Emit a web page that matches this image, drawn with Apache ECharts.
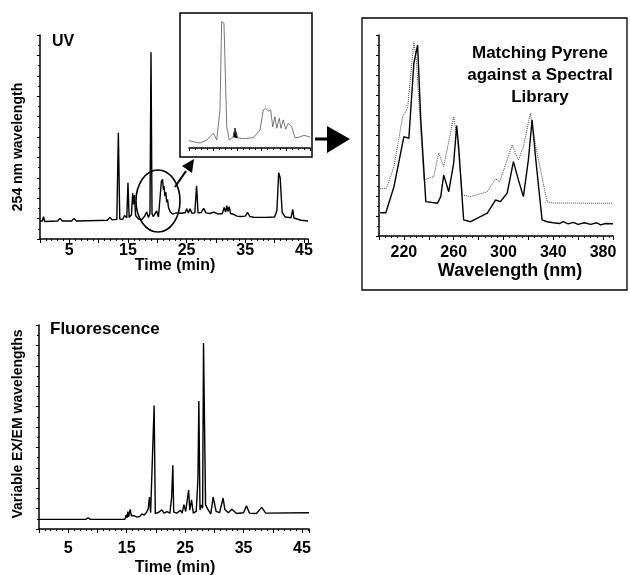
<!DOCTYPE html>
<html>
<head>
<meta charset="utf-8">
<script src="https://cdn.jsdelivr.net/npm/echarts@6/dist/echarts.min.js"></script>
<style>
  html, body { margin: 0; padding: 0; background: #fff; }
  #chart { width: 630px; height: 575px; }
</style>
</head>
<body>
<div id="chart"></div>
<script>
// ================= data =================
// UV trace at 254 nm (time in min, relative signal)
const uvTime = [0, 0.4, 0.6, 0.8, 3.0, 3.4, 3.8, 5.4, 5.8, 6.2, 11.5, 11.9, 12.3, 13.1, 13.36, 13.6, 14.1, 14.4, 14.8, 15.0,
  15.2, 15.6, 15.8, 15.95, 16.1, 16.3, 16.5, 16.8, 17.4, 17.8, 18.2, 18.5, 18.75, 18.93, 19.1, 19.3, 19.6, 19.9, 20.2, 20.5,
  20.7, 20.9, 21.05, 21.15, 21.3, 21.45, 21.6, 21.75, 21.9, 22.2, 22.6, 23.2, 24.2, 24.8, 25.0, 25.3, 25.6, 25.9, 26.4, 26.7,
  26.95, 27.5, 27.9, 28.3, 29.0, 29.6, 30.4, 31.1, 31.4, 31.65, 31.85, 32.05, 32.25, 32.5, 33.1, 33.6, 34.2, 35.0, 35.4, 35.8,
  36.5, 38.5, 40.0, 40.4, 40.7, 40.95, 41.3, 41.8, 42.8, 43.1, 43.3, 44.5, 45.7]
const uvSignal = [8.8, 8.8, 10.9, 8.6, 8.8, 10.1, 8.8, 8.8, 10.1, 8.8, 9.2, 10.6, 9.4, 9.6, 52.1, 9.8, 9.6, 11.5, 10.4, 27.6,
  10.5, 12, 22.4, 17, 21.5, 11.5, 12.3, 9.8, 9.6, 11, 13.2, 10.5, 12.5, 91.5, 12.5, 11, 11.5, 13.8, 10.8, 11.5,
  28.3, 29.3, 24, 26, 21, 23, 18, 19.5, 15.5, 13.4, 12.2, 12.8, 12.6, 13, 14.9, 12.8, 14.8, 12.6, 12.8, 26.1,
  12.8, 13, 15, 12.8, 12.5, 13.2, 12.2, 12.5, 15.5, 13.2, 16.3, 13.5, 15.8, 12.5, 12, 11.2, 11, 11.2, 13, 11,
  10.6, 10.6, 10.8, 14, 32.5, 30, 13, 10.8, 10.4, 14.5, 10.3, 9.2, 8.8]

// zoomed inset of the circled region (relative units)
const insetX = [0, 3.6, 9.1, 14.6, 20.1, 22.9, 25.6, 27, 28.9, 31.2, 33.3, 36.6, 38, 40, 45, 53, 58.7, 61.4, 63.4, 65.6,
  67.5, 69.2, 71, 72.5, 74.6, 76, 77.9, 79.9, 82, 84.9, 87.6, 91.7, 95, 100]
const insetY = [5.7, 4.9, 3.9, 6.2, 11.5, 6.2, 29.7, 98.7, 97.4, 16.6, 6.2, 8.8, 15.4, 8, 7.3, 8, 14, 29.7, 31, 28.9,
  29.7, 16.6, 24.5, 15.4, 23.2, 15.4, 22, 14.8, 19.3, 16.6, 8, 8.6, 9.9, 8.6]
// filled pyrene peak in the inset
const pyreneX = [36.6, 38, 40]
const pyreneY = [8.8, 15.4, 8]

// UV spectra: sample (solid) and library (dotted)
const sampleWl = [201, 205.5, 212, 220, 224, 228, 231, 233.6, 237.6, 247, 249.6, 252, 256, 260, 262.4, 264, 268, 273.6, 287, 293.6,
  297.6, 303, 308, 312, 316, 320, 323, 326, 331, 335, 340, 345, 348, 352, 356, 360, 365, 370, 375, 378, 382, 388]
const sampleAbs = [11.6, 11.6, 24.5, 49.4, 48.6, 85.9, 95, 57.7, 17.1, 16.3, 19.6, 30.3, 22, 36.3, 55, 44.4, 8, 7.1, 11.4, 17.9,
  17.1, 21.4, 37, 27.9, 19.6, 37.8, 57.7, 37.8, 8, 7.1, 6.6, 6.2, 7.2, 6, 6.8, 5.8, 6.6, 5.8, 6.6, 5.5, 6.2, 6.1]
const libraryWl = [201, 206, 212, 219, 223, 228, 230, 232, 236, 244, 248, 252, 260, 263, 267, 273.6, 287, 293.6, 297, 307,
  312, 316, 321.6, 326, 335, 340, 388]
const libraryAbs = [23.7, 23.7, 34.5, 59.4, 63.7, 96.7, 87.6, 67.7, 27.9, 29.5, 41.3, 34.5, 59.4, 47.8, 20.4, 19.6, 22, 28.4, 27, 45.3,
  37.8, 44.4, 61, 44.4, 17.1, 16.4, 16.3]

// fluorescence trace
const flTime = [0, 8.0, 8.4, 8.8, 14.7, 14.9, 15.05, 15.2, 15.35, 15.6, 15.8, 16.2, 16.5, 16.8, 17.3, 17.6, 18.0, 18.4, 18.7, 18.9,
  19.1, 19.4, 19.7, 19.9, 20.5, 21.0, 21.4, 21.9, 22.4, 22.7, 22.9, 23.05, 23.6, 24.2, 24.5, 24.8, 25.1, 25.6, 25.8, 26.1,
  26.4, 26.9, 27.2, 27.35, 27.55, 27.8, 28.0, 28.15, 28.3, 28.5, 28.9, 29.4, 29.8, 30.05, 30.3, 30.9, 31.5, 31.8, 32.4, 33.0,
  33.8, 35.0, 35.5, 36.0, 37.2, 38.1, 38.8, 39.0, 46.2]
const flSignal = [4.7, 4.7, 5.5, 4.7, 4.7, 6.9, 5.5, 8.5, 6, 9.6, 6.5, 6.6, 7.2, 5.8, 6.2, 7.4, 6.8, 8.2, 10, 15.7,
  8, 7.6, 60.5, 7.5, 8.2, 9.4, 7.8, 8.5, 7.8, 15.7, 31.2, 8.3, 7.8, 9.2, 7.8, 11.9, 8.6, 19.1, 9.3, 14.3,
  7.8, 8.6, 25, 62.7, 9.3, 11.8, 10.2, 91.2, 91.2, 11.8, 9.6, 7.4, 15.7, 16.2, 8.6, 8, 15.2, 9.6, 8, 9.7,
  7.6, 8, 11.4, 7.8, 7.6, 10.6, 7.8, 8, 8]

const zip = (a, b) => a.map((v, i) => [v, b[i]])

// ================= style helpers =================
const FONT = '"Liberation Sans", Arial, sans-serif'

const timeAxis = (gridIndex, max, margin) => ({
  type: 'value', gridIndex, min: 0, max, interval: 5,
  axisLine: { lineStyle: { color: '#000', width: 1.5 } },
  axisTick: { length: 4, lineStyle: { color: '#000', width: 1 } },
  minorTick: { show: true, splitNumber: 5, length: 2, lineStyle: { color: '#000', width: 1 } },
  splitLine: { show: false },
  axisLabel: {
    margin, color: '#000', fontFamily: FONT, fontWeight: 'bold', fontSize: 16,
    showMaxLabel: false,
    formatter: (v) => (v % 10 === 5 ? String(v) : '')
  }
})

const signalAxis = (gridIndex) => ({
  type: 'value', gridIndex, min: 0, max: 100, interval: 10,
  axisLine: { show: true, lineStyle: { color: '#000', width: 1.5 } },
  axisTick: { show: true, length: 3, lineStyle: { color: '#000', width: 1 } },
  minorTick: { show: true, splitNumber: 2, length: 2, lineStyle: { color: '#000', width: 1 } },
  splitLine: { show: false },
  axisLabel: { show: false }
})

const trace = (xAxisIndex, data, color, width, type) => ({
  type: 'line', xAxisIndex, yAxisIndex: xAxisIndex, data,
  symbol: 'none', smooth: false, silent: true,
  lineStyle: { color, width, type: type || 'solid' }
})

const label = (text, x, y, size, extra) => Object.assign({
  type: 'text', x, y,
  style: { text, fill: '#000', font: 'bold ' + size + 'px ' + FONT, align: 'center', verticalAlign: 'middle' }
}, extra || {})

// ================= chart =================
const chart = echarts.init(document.getElementById('chart'), null, { renderer: 'canvas' })

const option = {
  animation: false,
  backgroundColor: '#fff',
  grid: [
    { left: 40, top: 35, width: 268, height: 204 },   // UV
    { left: 189, top: 20, width: 121, height: 128 },  // inset
    { left: 379, top: 35, width: 234, height: 201 },  // spectra
    { left: 39, top: 325, width: 270, height: 204 }   // fluorescence
  ],
  xAxis: [
    timeAxis(0, 45.7, 4),
    {
      type: 'value', gridIndex: 1, min: 0, max: 100, interval: 20,
      axisLine: { lineStyle: { color: '#000', width: 1.5 } },
      axisTick: { length: 3, lineStyle: { color: '#000', width: 1 } },
      minorTick: { show: true, splitNumber: 4, length: 2, lineStyle: { color: '#000', width: 1 } },
      splitLine: { show: false },
      axisLabel: { show: false }
    },
    {
      type: 'value', gridIndex: 2, min: 200, max: 388, interval: 20,
      axisLine: { lineStyle: { color: '#000', width: 1.5 } },
      axisTick: { length: 4, lineStyle: { color: '#000', width: 1 } },
      minorTick: { show: true, splitNumber: 4, length: 2, lineStyle: { color: '#000', width: 1 } },
      splitLine: { show: false },
      axisLabel: {
        margin: 9, color: '#000', fontFamily: FONT, fontWeight: 'bold', fontSize: 16,
        showMaxLabel: false,
        formatter: (v) => (v >= 220 && (v - 220) % 40 === 0 ? String(v) : '')
      }
    },
    timeAxis(3, 46.2, 12)
  ],
  yAxis: [
    signalAxis(0),
    { type: 'value', gridIndex: 1, min: 0, max: 100, show: false },
    signalAxis(2),
    signalAxis(3)
  ],
  series: [
    trace(0, zip(uvTime, uvSignal), '#000', 1.4),
    trace(1, zip(insetX, insetY), '#555', 0.8),
    {
      type: 'custom', xAxisIndex: 1, yAxisIndex: 1, silent: true,
      data: zip(pyreneX, pyreneY),
      renderItem: (params, api) => {
        if (params.dataIndex !== 0) return null
        const pts = pyreneX.map((x, i) => api.coord([x, pyreneY[i]]))
        return { type: 'polygon', shape: { points: pts }, style: { fill: '#000', stroke: '#000', lineWidth: 1 } }
      }
    },
    trace(2, zip(libraryWl, libraryAbs), '#444', 1, 'dotted'),
    trace(2, zip(sampleWl, sampleAbs), '#000', 1.4),
    trace(3, zip(flTime, flSignal), '#000', 1.4)
  ],
  graphic: [
    // panel texts
    label('UV', 52, 42, 15, { style: { text: 'UV', fill: '#000', font: 'bold 16px ' + FONT, align: 'left', verticalAlign: 'middle' } }),
    label('254 nm wavelength', 18, 147, 14, { rotation: Math.PI / 2 }),
    label('Time (min)', 175, 266, 16),
    label('Fluorescence', 50, 329, 17, { style: { text: 'Fluorescence', fill: '#000', font: 'bold 17px ' + FONT, align: 'left', verticalAlign: 'middle' } }),
    label('Variable EX/EM wavelengths', 18, 424, 14, { rotation: Math.PI / 2 }),
    label('Time (min)', 175, 568, 16),
    label('Matching Pyrene', 540, 53, 17),
    label('against a Spectral', 540, 75, 17),
    label('Library', 540, 97, 17),
    label('Wavelength (nm)', 510, 271, 18),
    // boxes
    { type: 'rect', shape: { x: 180, y: 13, width: 132, height: 144 }, style: { fill: 'none', stroke: '#000', lineWidth: 1.5 }, silent: true },
    { type: 'rect', shape: { x: 362, y: 18, width: 265, height: 272 }, style: { fill: 'none', stroke: '#000', lineWidth: 1.3 }, silent: true },
    // circled region and arrows
    { type: 'ellipse', shape: { cx: 158, cy: 201, rx: 22, ry: 31 }, style: { fill: 'none', stroke: '#000', lineWidth: 1.6 }, silent: true },
    { type: 'line', shape: { x1: 175, y1: 187, x2: 186, y2: 171 }, style: { stroke: '#000', lineWidth: 2 }, silent: true },
    { type: 'polygon', shape: { points: [[194, 159], [182, 166], [192, 173]] }, style: { fill: '#000' }, silent: true },
    { type: 'line', shape: { x1: 315, y1: 139, x2: 329, y2: 139 }, style: { stroke: '#000', lineWidth: 3 }, silent: true },
    { type: 'polygon', shape: { points: [[327, 126], [350, 139], [327, 153]] }, style: { fill: '#000' }, silent: true }
  ]
}

chart.setOption(option)
</script>
</body>
</html>
